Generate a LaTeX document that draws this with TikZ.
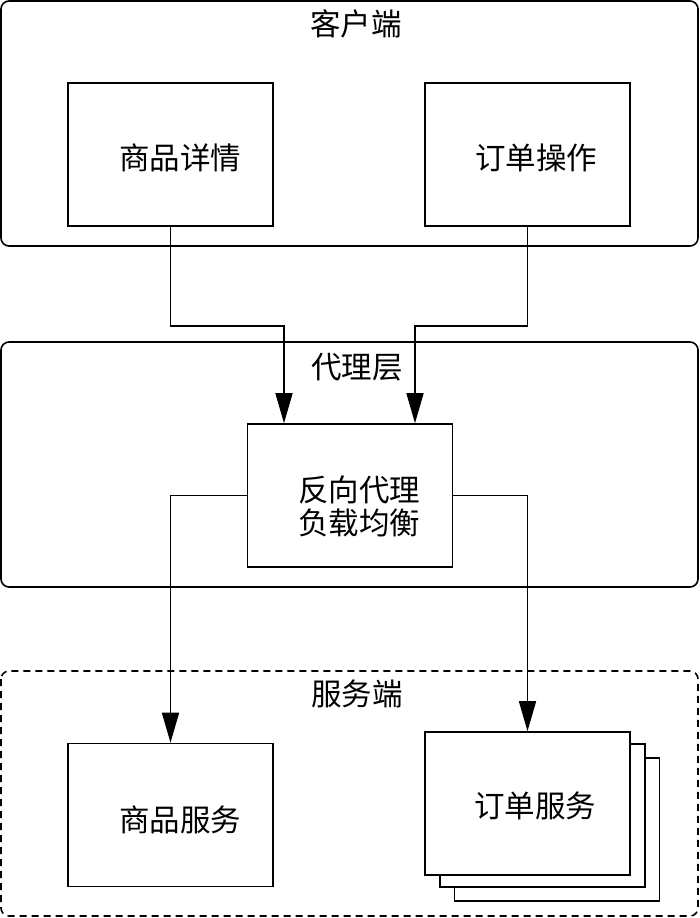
\documentclass[tikz,border=0pt]{standalone}
\usepackage{fontspec}
\setmainfont{Noto Sans CJK SC}
\usetikzlibrary{arrows.meta}
\begin{document}
\begin{tikzpicture}[x=1pt,y=-1pt,
  group/.style={draw, line width=1.6pt, rounded corners=8pt},
  box/.style={draw, fill=white, line width=1.6pt, minimum width=205pt, minimum height=143pt, inner sep=0pt},
  txt/.style={font=\fontsize{30.5}{33}\selectfont, inner sep=0pt, align=center},
  flow/.style={line width=1.6pt, -{Triangle[length=30pt,width=17pt]}}]
\useasboundingbox (0,0) rectangle (700,918);
\fill[white] (0,0) rectangle (700,918);

% client layer
\draw[group] (1,1) rectangle (698,246);
\node[txt] (tclient) at (356,24) {客户端};
\node[box] (detail) at (170.5,154.5) {};
\node[txt] at (180,158) {商品详情};
\node[box] (order) at (527.5,154.5) {};
\node[txt] at (536,158) {订单操作};

% proxy layer
\draw[group] (1,342) rectangle (698,587);
\node[txt] (tproxy) at (357,367) {代理层};
\node[box] (proxy) at (350,495.5) {};
\node[txt] at (359,506) {反向代理\\负载均衡};

% service layer
\draw[group, dash pattern=on 7pt off 5pt] (1,671) rectangle (698,916);
\node[txt] (tserv) at (357,694) {服务端};
\node[box] (goods) at (170.5,815) {};
\node[txt] at (180,820) {商品服务};
\node[box] (ord3) at (557,829.5) {};
\node[box] (ord2) at (542.5,815.5) {};
\node[box] (ord1) at (527.5,803.5) {};
\node[txt] at (535,806) {订单服务};

% connectors
\draw[flow] (detail.south) -- ++(0,99) -| ([xshift=-66pt]proxy.north);
\draw[flow] (order.south) -- ++(0,99) -| ([xshift=65pt]proxy.north);
\draw[flow] (proxy.west) -| (goods.north);
\draw[flow] (proxy.east) -| (ord1.north);
\end{tikzpicture}
\end{document}
